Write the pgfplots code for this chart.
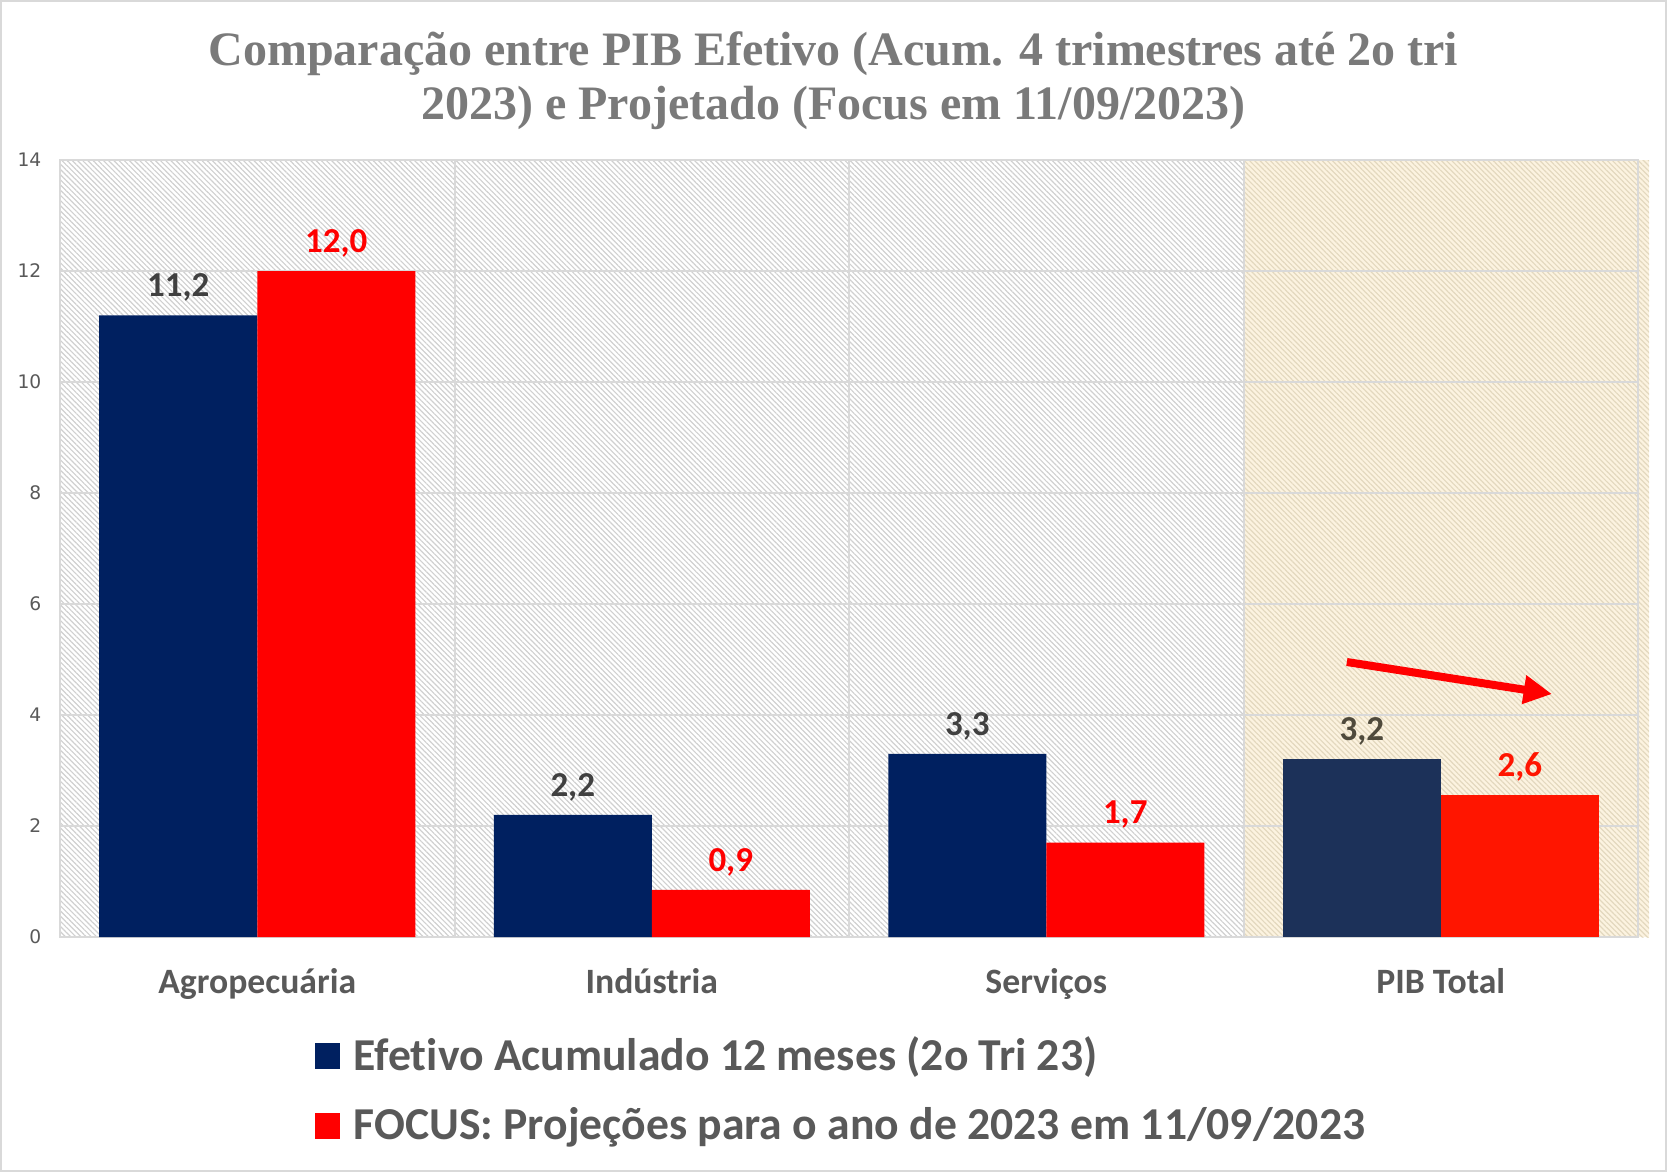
\documentclass[border=0pt]{standalone}
\usepackage{pgfplots}
\pgfplotsset{compat=1.18}
\usepackage{pgfplotstable}
\usepackage{fontspec}
\setmainfont{Carlito}[Ligatures={NoCommon}]
\newfontfamily\titlefont{Liberation Serif}
\newfontfamily\tickfont{DejaVu Sans}
\usetikzlibrary{patterns.meta,arrows.meta}
\definecolor{navy}{HTML}{002060}
\definecolor{navyT}{HTML}{1C3159}
\definecolor{redA}{HTML}{FF0000}
\definecolor{redT}{HTML}{FF1500}
\definecolor{lblgray}{HTML}{404040}
\definecolor{lblT}{HTML}{4F4A3C}
\definecolor{txtgray}{HTML}{595959}
\definecolor{titlegray}{HTML}{7A7A7A}
\definecolor{gridgray}{HTML}{D9D9D9}
\definecolor{framegray}{HTML}{D9D9D9}
\definecolor{hatchgray}{HTML}{D0D0D0}
\definecolor{beige}{HTML}{FCF3E0}
\definecolor{hatchtan}{HTML}{E3D8BE}

\pgfplotstableread{
x y lab
0 11.2 11,2
1 2.2 2,2
2 3.3 3,3
}\efet
\pgfplotstableread{
x y lab
0 12.0 12,0
1 0.85 0,9
2 1.7 1,7
}\focus
\pgfplotstableread{
x y lab
3 3.2 3,2
}\efetT
\pgfplotstableread{
x y lab
3 2.55 2,6
}\focusT

\begin{document}
\begin{tikzpicture}[x=1pt,y=1pt]
\draw[framegray, line width=0.6pt] (0.3,0.3) rectangle (499.8,351.3);
\node[font=\titlefont\bfseries\fontsize{14.4}{16.2}\selectfont, text=titlegray, align=center] at (250,327.5) {Comparação entre PIB Efetivo (Acum. 4 trimestres até 2o tri\\2023) e Projetado (Focus em 11/09/2023)};
\begin{axis}[
  at={(18pt,70.5pt)}, anchor=south west, scale only axis,
  width=473.4pt, height=233.1pt,
  set layers, clip=false,
  xmin=-0.5, xmax=3.5, ymin=0, ymax=14,
  xtick={0,1,2,3}, xticklabels={Agropecuária,Indústria,Serviços,PIB Total},
  minor xtick={0.5,1.5,2.5},
  ytick={0,2,...,14},
  ymajorgrids, xminorgrids,
  major grid style={gridgray, line width=0.6pt},
  minor grid style={gridgray, line width=0.6pt},
  major tick length=0pt, minor tick length=0pt,
  axis line style={gridgray, line width=0.6pt},
  /pgf/number format/assume math mode=true,
  yticklabel style={font=\tickfont\fontsize{5.6}{6}\selectfont, text=txtgray, anchor=east, inner sep=0pt, xshift=-5.4pt},
  xticklabel style={font=\bfseries\fontsize{10.7}{12}\selectfont, text=txtgray, anchor=base, inner sep=0pt, yshift=-16.95pt},
  legend style={at={(0.155,-0.115)}, anchor=north west, draw=none, fill=none,
    font=\bfseries\fontsize{13.7}{15}\selectfont, text=txtgray, row sep=7.6pt,
    nodes={inner sep=1pt},
    /tikz/every odd column/.style={column sep=3pt}},
  legend cell align=left,
  legend image code/.code={\fill[#1] (0pt,-3.9pt) rectangle (7.5pt,3.9pt);},
  every node near coord/.append style={font=\bfseries\fontsize{10.5}{12}\selectfont, anchor=base, inner sep=0pt, yshift=5.6pt},
]
\addplot[ybar, bar width=47.4pt, bar shift=-23.7pt, fill=navy, draw=none,
  nodes near coords, point meta=explicit symbolic,
  every node near coord/.append style={text=lblgray, xshift=-23.7pt}]
  table[x=x,y=y,meta=lab]{\efet};
\addlegendentry{Efetivo Acumulado 12 meses (2o Tri 23)}
\addplot[ybar, bar width=47.4pt, bar shift=23.7pt, fill=redA, draw=none,
  nodes near coords, point meta=explicit symbolic,
  every node near coord/.append style={text=redA, xshift=23.7pt}]
  table[x=x,y=y,meta=lab]{\focus};
\addlegendentry{FOCUS: Projeções para o ano de 2023 em 11/09/2023}
\addplot[ybar, bar width=47.4pt, bar shift=-23.7pt, fill=navyT, draw=none, forget plot,
  nodes near coords, point meta=explicit symbolic,
  every node near coord/.append style={text=lblT, xshift=-23.7pt}]
  table[x=x,y=y,meta=lab]{\efetT};
\addplot[ybar, bar width=47.4pt, bar shift=23.7pt, fill=redT, draw=none, forget plot,
  nodes near coords, point meta=explicit symbolic,
  every node near coord/.append style={text=redT, xshift=23.7pt}]
  table[x=x,y=y,meta=lab]{\focusT};
\begin{pgfonlayer}{axis background}
\fill[white] (axis cs:-0.5,0) rectangle (axis cs:2.5,14);
\fill[pattern={Lines[angle=-45,distance=1.1pt,line width=0.35pt]}, pattern color=hatchgray] (axis cs:-0.5,0) rectangle (axis cs:2.5,14);
\fill[beige] (axis cs:2.5,0) rectangle (axis cs:3.528,14);
\fill[pattern={Lines[angle=-45,distance=1.1pt,line width=0.35pt]}, pattern color=hatchtan] (axis cs:2.5,0) rectangle (axis cs:3.528,14);
\end{pgfonlayer}
\draw[redA, line width=2.4pt, -{Triangle[length=8.5pt,width=8.2pt]}] (axis cs:2.762,4.955) -- (axis cs:3.282,4.378);
\end{axis}
\end{tikzpicture}
\end{document}
